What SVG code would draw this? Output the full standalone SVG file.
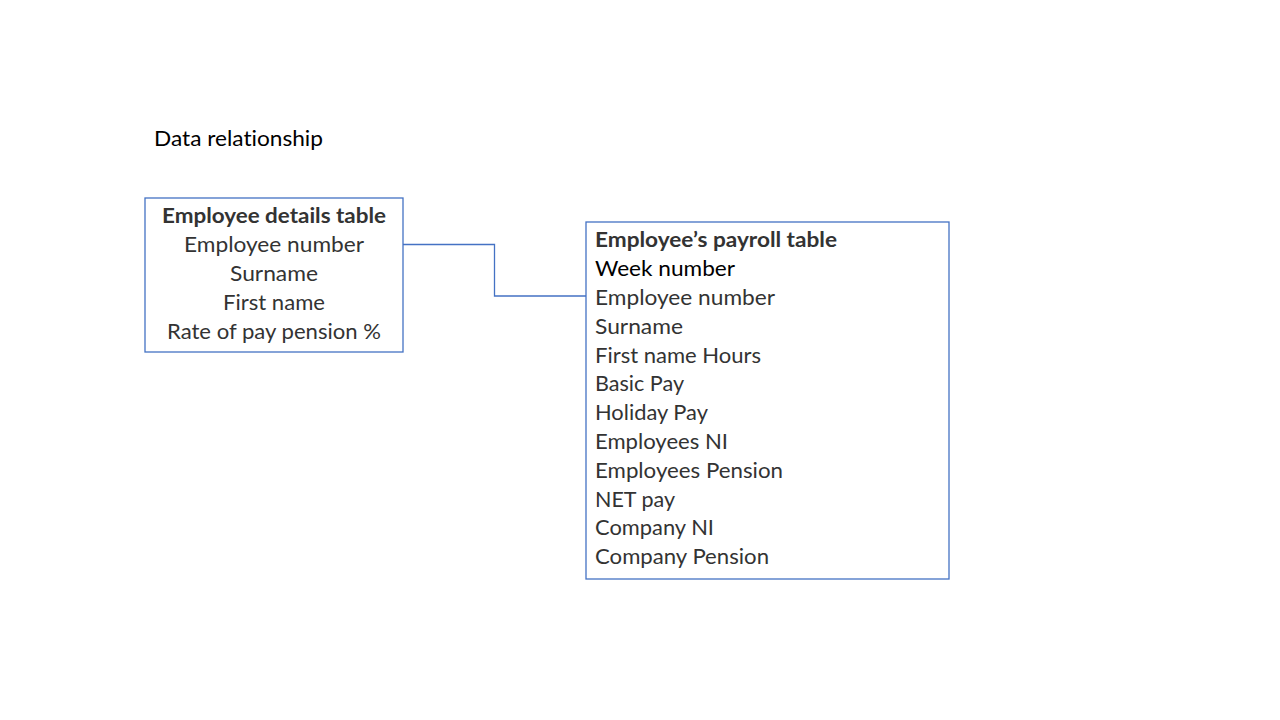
<svg xmlns="http://www.w3.org/2000/svg" width="1280" height="720" viewBox="0 0 1280 720">
<style>
text{font-family:Lato,"Open Sans","Liberation Sans",sans-serif;font-size:21px;fill:#333333;font-variant-ligatures:none}
.b{font-weight:bold}
.k{fill:#000000}
.box{fill:#ffffff;stroke:#4472C4;stroke-width:1.3}
.c{text-anchor:middle}
.conn{fill:none;stroke:#4472C4;stroke-width:1.3}
</style>
<rect width="1280" height="720" fill="#ffffff"/>
<text id="title" class="k" x="154" y="146" textLength="169" lengthAdjust="spacingAndGlyphs">Data relationship</text>
<g id="connectors">
<polyline class="conn" points="403,244.5 494.5,244.5 494.5,296 586,296"/>
</g>
<g id="employee-details">
<rect class="box" x="145" y="198" width="258" height="154"/>
<text class="c b" x="274" y="223" textLength="224" lengthAdjust="spacingAndGlyphs">Employee details table</text>
<text class="c" x="274" y="252" textLength="180" lengthAdjust="spacingAndGlyphs">Employee number</text>
<text class="c" x="274" y="281" textLength="88" lengthAdjust="spacingAndGlyphs">Surname</text>
<text class="c" x="274" y="310" textLength="102" lengthAdjust="spacingAndGlyphs">First name</text>
<text class="c" x="274" y="339" textLength="214" lengthAdjust="spacingAndGlyphs">Rate of pay pension %</text>
</g>
<g id="payroll">
<rect class="box" x="586" y="222" width="363" height="357"/>
<text class="b" x="595" y="247" textLength="242" lengthAdjust="spacingAndGlyphs">Employee’s payroll table</text>
<text class="k" x="595" y="276" textLength="140" lengthAdjust="spacingAndGlyphs">Week number</text>
<text x="595" y="305" textLength="180" lengthAdjust="spacingAndGlyphs">Employee number</text>
<text x="595" y="334" textLength="88" lengthAdjust="spacingAndGlyphs">Surname</text>
<text x="595" y="363" textLength="166" lengthAdjust="spacingAndGlyphs">First name Hours</text>
<text x="595" y="391" textLength="89" lengthAdjust="spacingAndGlyphs">Basic Pay</text>
<text x="595" y="420" textLength="113" lengthAdjust="spacingAndGlyphs">Holiday Pay</text>
<text x="595" y="449" textLength="133" lengthAdjust="spacingAndGlyphs">Employees NI</text>
<text x="595" y="478" textLength="188" lengthAdjust="spacingAndGlyphs">Employees Pension</text>
<text x="595" y="507" textLength="80" lengthAdjust="spacingAndGlyphs">NET pay</text>
<text x="595" y="535" textLength="119" lengthAdjust="spacingAndGlyphs">Company NI</text>
<text x="595" y="564" textLength="174" lengthAdjust="spacingAndGlyphs">Company Pension</text>
</g>
</svg>
